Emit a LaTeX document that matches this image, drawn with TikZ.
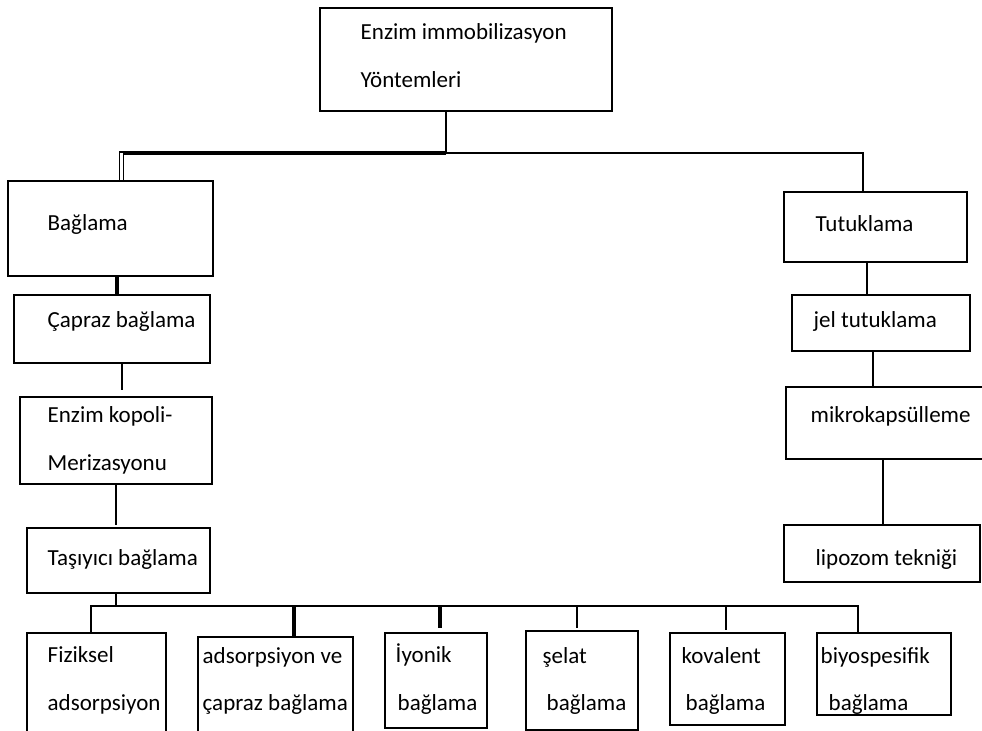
\documentclass[tikz,border=0pt]{standalone}
\usepackage{fontspec}
\setmainfont{Carlito}
\usetikzlibrary{fit}

\begin{document}
\begin{tikzpicture}[x=1bp,y=-1bp,line width=1.4bp,
	font=\fontsize{23bp}{28bp}\selectfont]
	\tikzstyle{box}=[draw,inner sep=0pt,fill=none]
	\tikzstyle{txt}=[inner sep=0pt,anchor=base west]
	\tikzstyle{heavy}=[line width=3.4bp]
	\path[use as bounding box,clip] (0,0) rectangle (982,731);

	% top
	\node[box,fit={(320,8) (612,111)}] (EI) {};
	\node[txt] (EI1) at (360,40) {Enzim immobilizasyon};
	\node[txt] (EI2) at (360,88) {Yöntemleri};

	% left branch
	\node[box,fit={(8,181) (213,276)}]  (B)  {};
	\node[txt] (B1) at (47,230) {Bağlama};
	\node[box,fit={(14,295) (210,363)}] (C)  {};
	\node[txt] (C1) at (47,327) {Çapraz bağlama};
	\node[box,fit={(20,397) (212,484)}] (K)  {};
	\node[txt] (K1) at (47,422) {Enzim kopoli-};
	\node[txt] (K2) at (47,470) {Merizasyonu};
	\node[box,fit={(27,528) (210,593)}] (Ta) {};
	\node[txt] (Ta1) at (47,565) {Taşıyıcı bağlama};

	% bottom row
	\node[box,fit={(27,633) (166,760)}]  (F)  {};
	\node[txt] (F1) at (47,662) {Fiziksel};
	\node[txt] (F2) at (47,710) {adsorpsiyon};
	\node[box,fit={(198,637) (353,760)}] (A)  {};
	\node[txt] (A1) at (202,663) {adsorpsiyon ve};
	\node[txt] (A2) at (202,710) {çapraz bağlama};
	\node[box,fit={(385,633) (487,728)}] (I)  {};
	\node[txt] (I1) at (395,662) {İyonik};
	\node[txt] (I2) at (397,710) {bağlama};
	\node[box,fit={(526,631) (638,730)}] (S)  {};
	\node[txt] (S1) at (542,663) {şelat};
	\node[txt] (S2) at (546,710) {bağlama};
	\node[box,fit={(670,633) (785,725)}] (Ko) {};
	\node[txt] (Ko1) at (681,663) {kovalent};
	\node[txt] (Ko2) at (685,710) {bağlama};
	\node[box,fit={(817,633) (951,715)}] (Bi) {};
	\node[txt] (Bi1) at (820,663) {biyospesifik};
	\node[txt] (Bi2) at (828,710) {bağlama};

	% right branch
	\node[box,fit={(784,192) (967,262)}] (T) {};
	\node[txt] (T1) at (815,231) {Tutuklama};
	\node[box,fit={(792,295) (970,351)}] (J) {};
	\node[txt] (J1) at (813,327) {jel tutuklama};
	\node[box,fit={(786,387) (995,459)}] (M) {};
	\node[txt] (M1) at (810,422) {mikrokapsülleme};
	\node[box,fit={(784,525) (980,582)}] (L) {};
	\node[txt] (L1) at (815,565) {lipozom tekniği};

	% connectors
	\coordinate (hub)   at (446,153);
	\coordinate (hubL)  at (119.5,152);
	\coordinate (hubL2) at (123.5,154);
	\coordinate (hubR)  at (863,153);
	\draw (EI.south -| hub) -- (hub);
	\draw (hub |- hubL) -- (hubL) -- (hubL |- B.north);
	\draw (hub |- hubL2) -- (hubL2) -- (hubL2 |- B.north);
	\draw (hub) -- (hubR) -- (hubR |- T.north);

	\coordinate (bc) at (117,0);
	\draw[heavy] (B.south -| bc) -- (C.north -| bc);
	\coordinate (ck) at (122,390);
	\draw (C.south -| ck) -- (ck);
	\coordinate (kt) at (116,525);
	\draw (K.south -| kt) -- (kt);
	\coordinate (bus) at (116,606);
	\draw (Ta.south -| bus) -- (bus);

	\coordinate (busL) at (91,606);
	\coordinate (busR) at (858,606);
	\draw (busL |- F.north) -- (busL) -- (busR) -- (busR |- Bi.north);
	\coordinate (ba) at (294,606);
	\draw[heavy] (ba) -- (ba |- A.north);
	\coordinate (bi) at (440,628);
	\draw[heavy] (bi |- bus) -- (bi);
	\coordinate (bs) at (577,628);
	\draw (bs |- bus) -- (bs);
	\coordinate (bk) at (726,630);
	\draw (bk |- bus) -- (bk);

	\coordinate (tj) at (867,0);
	\draw (T.south -| tj) -- (J.north -| tj);
	\coordinate (jm) at (873,0);
	\draw (J.south -| jm) -- (M.north -| jm);
	\coordinate (ml) at (883,0);
	\draw (M.south -| ml) -- (L.north -| ml);
\end{tikzpicture}
\end{document}
